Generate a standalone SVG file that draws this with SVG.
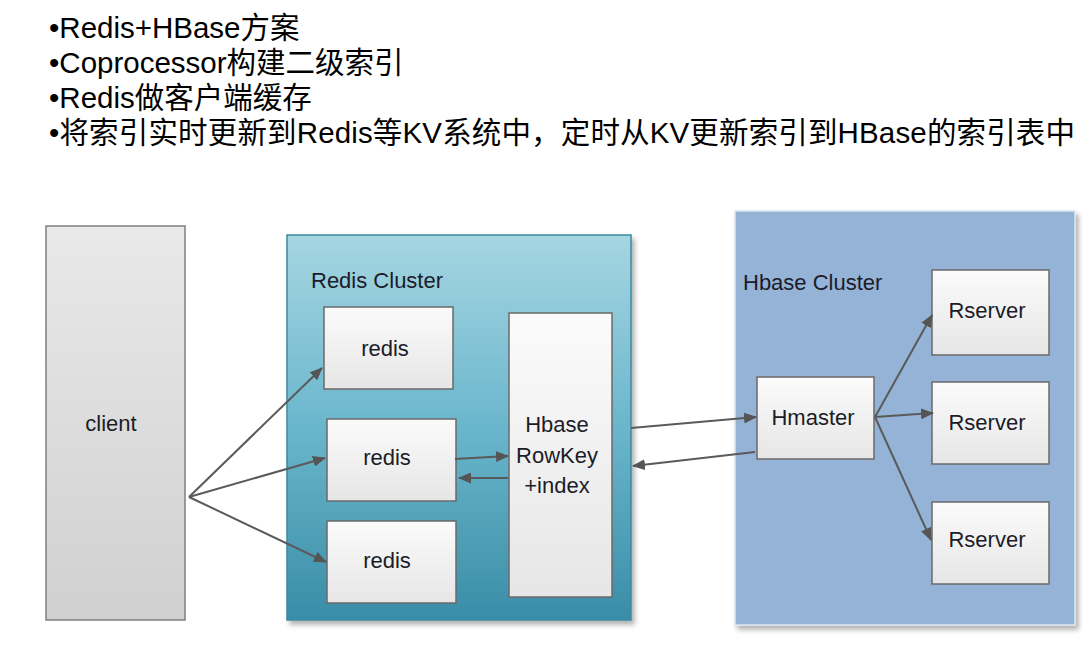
<svg xmlns="http://www.w3.org/2000/svg" width="1083" height="647" viewBox="0 0 1083 647">
<defs>
  <linearGradient id="gClient" x1="0" y1="0" x2="0" y2="1">
    <stop offset="0" stop-color="#e9e9e9"/>
    <stop offset="1" stop-color="#d0d0d0"/>
  </linearGradient>
  <linearGradient id="gRedis" x1="0" y1="0" x2="0" y2="1">
    <stop offset="0" stop-color="#a6d6e2"/>
    <stop offset="0.5" stop-color="#6ab6cc"/>
    <stop offset="1" stop-color="#3a8da7"/>
  </linearGradient>
  <linearGradient id="gBox" x1="0" y1="0" x2="0" y2="1">
    <stop offset="0" stop-color="#fbfbfb"/>
    <stop offset="1" stop-color="#e6e6e6"/>
  </linearGradient>
  <filter id="shadow" x="-10%" y="-10%" width="125%" height="125%">
    <feDropShadow dx="3" dy="4" stdDeviation="2.5" flood-color="#000" flood-opacity="0.3"/>
  </filter>
  <marker id="arrow" markerUnits="userSpaceOnUse" markerWidth="13" markerHeight="11" refX="12" refY="5.5" orient="auto">
    <path d="M0,0 L13,5.5 L0,11 z" fill="#555"/>
  </marker>
  <style>
    .hdr { font-family: "Liberation Sans", "Noto Sans CJK SC", sans-serif; font-size: 29.5px; fill: #000; }
    .lbl { font-family: "Liberation Sans", Arial, sans-serif; font-size: 22px; fill: #1c1c28; }
    .mid { text-anchor: middle; }
    .box { fill: url(#gBox); stroke: #6a6a6a; stroke-width: 1.5; }
    .conn { stroke: #5a5a5a; stroke-width: 2; fill: none; marker-end: url(#arrow); }
  </style>
</defs>

<g id="header">
  <text class="hdr" x="49" y="38">•Redis+HBase方案</text>
  <text class="hdr" x="49" y="73">•Coprocessor构建二级索引</text>
  <text class="hdr" x="49" y="108">•Redis做客户端缓存</text>
  <text class="hdr" x="49" y="143" textLength="1026" lengthAdjust="spacing">•将索引实时更新到Redis等KV系统中，定时从KV更新索引到HBase的索引表中</text>
</g>

<g id="client">
  <rect x="46" y="226" width="139" height="394" fill="url(#gClient)" stroke="#7f7f7f" stroke-width="1.5"/>
  <text class="lbl mid" x="111" y="431">client</text>
</g>

<g id="redis-cluster">
  <rect x="287" y="235" width="344" height="385" fill="url(#gRedis)" stroke="#3a8aa0" stroke-width="1.5" filter="url(#shadow)"/>
  <text class="lbl" x="311" y="288">Redis Cluster</text>
</g>

<g id="redis1">
  <rect class="box" x="324" y="307" width="129" height="82"/>
  <text class="lbl mid" x="385" y="356">redis</text>
</g>
<g id="redis2">
  <rect class="box" x="327" y="419" width="129" height="82"/>
  <text class="lbl mid" x="387" y="465">redis</text>
</g>
<g id="redis3">
  <rect class="box" x="327" y="521" width="129" height="82"/>
  <text class="lbl mid" x="387" y="568">redis</text>
</g>

<g id="hbase-index">
  <rect class="box" x="509" y="313" width="103" height="284"/>
  <text class="lbl mid" x="557" y="432">Hbase</text>
  <text class="lbl mid" x="557" y="463">RowKey</text>
  <text class="lbl mid" x="557" y="493">+index</text>
</g>

<g id="hbase-cluster">
  <rect x="735" y="211" width="340" height="414" fill="#95b3d7" stroke="#dbe5f1" stroke-width="1.5" filter="url(#shadow)"/>
  <text class="lbl" x="743" y="290">Hbase Cluster</text>
</g>

<g id="hmaster">
  <rect class="box" x="757" y="377" width="117" height="82"/>
  <text class="lbl mid" x="813" y="425">Hmaster</text>
</g>
<g id="rserver1">
  <rect class="box" x="932" y="270" width="117" height="85"/>
  <text class="lbl mid" x="987" y="318">Rserver</text>
</g>
<g id="rserver2">
  <rect class="box" x="932" y="382" width="117" height="82"/>
  <text class="lbl mid" x="987" y="430">Rserver</text>
</g>
<g id="rserver3">
  <rect class="box" x="932" y="502" width="117" height="82"/>
  <text class="lbl mid" x="987" y="547">Rserver</text>
</g>

<g id="connectors">
  <line class="conn" x1="189" y1="497" x2="322" y2="368"/>
  <line class="conn" x1="189" y1="497" x2="325" y2="458"/>
  <line class="conn" x1="189" y1="497" x2="326" y2="562"/>
  <line class="conn" x1="455" y1="459" x2="508" y2="456"/>
  <line class="conn" x1="508" y1="478" x2="459" y2="478"/>
  <line class="conn" x1="631" y1="428" x2="756" y2="417"/>
  <line class="conn" x1="755" y1="452" x2="633" y2="466"/>
  <line class="conn" x1="875" y1="417" x2="932" y2="315"/>
  <line class="conn" x1="875" y1="417" x2="933" y2="413"/>
  <line class="conn" x1="875" y1="417" x2="931" y2="540"/>
</g>
</svg>
